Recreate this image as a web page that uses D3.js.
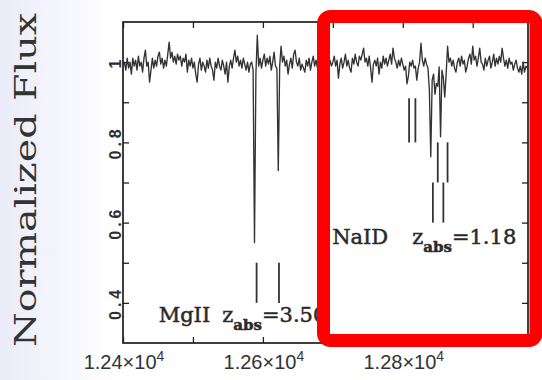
<!DOCTYPE html>
<html>
<head>
<meta charset="utf-8">
<script src="https://cdn.jsdelivr.net/npm/d3@7"></script>
<style>
  html, body { margin: 0; padding: 0; background: #fff; }
  svg { display: block; }
</style>
</head>
<body>
<svg id="chart" width="542" height="380"></svg>
<script>
// spectrum: first wavelength and sampling step (Angstrom), then normalized flux
const waveStart = 12400;
const waveStep = 2;
const flux = [
  0.99, 1.00, 0.98, 1.01, 0.985, 1.00, 0.97, 1.01, 0.99, 1.005,
  0.98, 1.015, 0.99, 1.00, 0.975, 1.01, 1.03, 0.99, 1.00, 0.95,
  0.98, 1.01, 0.985, 1.005, 0.99, 1.015, 1.025, 0.995, 1.01, 0.985,
  1.005, 0.99, 1.02, 1.05, 1.01, 1.025, 1.00, 1.015, 0.995, 1.02,
  1.005, 1.015, 0.99, 1.01, 1.00, 1.02, 0.975, 1.005, 0.99, 1.01,
  0.985, 1.00, 0.97, 0.95, 0.995, 1.01, 0.98, 1.00, 0.99, 0.975,
  1.005, 0.985, 1.01, 0.99, 0.98, 0.955, 1.00, 0.985, 1.01, 0.99,
  0.98, 1.005, 0.99, 0.97, 1.00, 0.95, 0.99, 1.005, 0.985, 1.01,
  1.03, 1.00, 1.015, 0.99, 1.005, 0.985, 1.01, 0.995, 0.98, 1.00,
  0.975, 0.995, 1.00, 0.98, 0.55, 0.97, 1.067, 0.99, 1.01, 0.985,
  1.005, 1.02, 0.99, 1.01, 0.995, 1.015, 0.98, 1.00, 1.025, 0.99,
  0.985, 0.73, 0.99, 1.04, 1.00, 1.015, 0.99, 1.005, 0.97, 0.995,
  1.01, 0.985, 1.02, 1.03, 1.00, 0.99, 1.01, 0.98, 0.995, 0.985,
  0.975, 1.005, 0.99, 1.01, 0.98, 1.00, 1.015, 0.99, 1.005, 0.985,
  1.01, 0.99, 1.02, 0.995, 1.00, 0.985, 1.01, 0.98, 1.005, 0.99,
  1.00, 1.015, 0.99, 1.005, 0.96, 0.995, 1.01, 0.985, 1.00, 1.02,
  0.99, 1.005, 0.985, 0.975, 1.01, 0.995, 1.02, 1.00, 0.99, 1.015,
  1.005, 1.02, 1.035, 1.00, 1.01, 0.99, 1.015, 0.985, 0.95, 0.995,
  1.005, 0.99, 1.01, 0.97, 1.00, 0.985, 1.015, 0.995, 1.01, 0.99,
  1.005, 1.02, 0.995, 1.035, 1.01, 1.00, 0.985, 1.005, 0.99, 1.01,
  0.995, 0.98, 0.99, 0.946, 0.965, 1.00, 0.99, 1.005, 0.985, 0.99,
  0.955, 0.985, 1.00, 1.047, 1.005, 0.99, 1.01, 0.995, 0.985, 0.93,
  0.764, 0.955, 0.97, 0.92, 0.947, 0.94, 0.988, 0.814, 0.98, 0.96,
  0.913, 0.97, 1.04, 1.00, 1.01, 0.99, 1.005, 0.985, 0.975, 1.00,
  1.01, 0.99, 1.015, 0.995, 1.005, 0.975, 0.99, 1.01, 1.02, 0.995,
  1.04, 1.005, 1.015, 0.99, 1.01, 1.035, 1.00, 0.995, 0.98, 1.01,
  0.99, 1.005, 1.015, 0.985, 1.00, 1.02, 0.99, 1.01, 0.995, 1.015,
  1.00, 1.035, 1.01, 0.99, 1.005, 0.985, 1.01, 0.995, 1.00, 0.98,
  0.995, 1.005, 0.985, 0.975, 0.99, 0.97, 1.00, 0.975, 0.99, 0.985,
  1.00
];

// axis ticks and labels
const xTicks = [12400, 12500, 12600, 12700, 12800, 12900];
const xLabelTicks = [12400, 12600, 12800];
const xLabelText = ["1.24", "1.26", "1.28"];
const yTicks = [0.4, 0.5, 0.6, 0.7, 0.8, 0.9, 1.0];
const yLabelTicks = [0.4, 0.6, 0.8, 1.0];
const yLabelText = ["0.4", "0.6", "0.8", "1"];

// absorption line markers (wavelength, flux top, flux bottom)
const markerWave = [12591, 12623, 12809, 12818, 12850, 12864, 12843, 12858];
const markerTop = [0.50, 0.50, 0.91, 0.91, 0.80, 0.80, 0.70, 0.70];
const markerBottom = [0.40, 0.40, 0.80, 0.80, 0.70, 0.70, 0.60, 0.60];

// absorber systems
const systemIon = ["MgII", "NaID"];
const systemZ = ["3.50", "1.18"];
const systemWave = [12451, 12699];
const systemFlux = [0.353, 0.546];

const svg = d3.select("#chart");
const width = 542, height = 380;

const x = d3.scaleLinear().domain([12400, 12979]).range([123, 528]);
const y = d3.scaleLinear().domain([0.3, 1.1]).range([343, 22]);

// slide background on the left
const defs = svg.append("defs");
const grad = defs.append("linearGradient").attr("id", "bg").attr("x1", 0).attr("x2", 1);
grad.append("stop").attr("offset", 0).attr("stop-color", "#e9ebf8");
grad.append("stop").attr("offset", 0.35).attr("stop-color", "#f1f2fb");
grad.append("stop").attr("offset", 1).attr("stop-color", "#ffffff");
svg.append("rect").attr("x", 0).attr("y", 0).attr("width", 110).attr("height", height)
  .attr("fill", "url(#bg)");

defs.append("clipPath").attr("id", "plot")
  .append("rect")
  .attr("x", x.range()[0]).attr("y", y.range()[1])
  .attr("width", x.range()[1] - x.range()[0])
  .attr("height", y.range()[0] - y.range()[1]);

// ticks on all four sides, pointing inward
const g = svg.append("g").attr("class", "axes");
g.append("g").attr("transform", `translate(0,${y.range()[0]})`)
  .call(d3.axisBottom(x).tickValues(xTicks).tickSize(-6).tickSizeOuter(0).tickFormat(""));
g.append("g").attr("transform", `translate(0,${y.range()[1]})`)
  .call(d3.axisTop(x).tickValues(xTicks).tickSize(-6).tickSizeOuter(0).tickFormat(""));
g.append("g").attr("transform", `translate(${x.range()[0]},0)`)
  .call(d3.axisLeft(y).tickValues(yTicks).tickSize(-6).tickSizeOuter(0).tickFormat(""));
g.append("g").attr("transform", `translate(${x.range()[1]},0)`)
  .call(d3.axisRight(y).tickValues(yTicks).tickSize(-6).tickSizeOuter(0).tickFormat(""));
g.selectAll(".domain").remove();
g.selectAll(".tick line").attr("stroke", "#222").attr("stroke-width", 1.3);

svg.append("rect")
  .attr("x", x.range()[0]).attr("y", y.range()[1])
  .attr("width", x.range()[1] - x.range()[0])
  .attr("height", y.range()[0] - y.range()[1])
  .attr("fill", "none").attr("stroke", "#1e1e1e").attr("stroke-width", 1.7);

// x tick labels with 10^4
const xl = svg.append("g").selectAll("text").data(xLabelTicks).join("text")
  .attr("x", d => x(d) + 1)
  .attr("y", y.range()[0] + 26)
  .attr("text-anchor", "middle")
  .attr("font-family", "'Liberation Sans', Arial, sans-serif")
  .attr("font-size", 20)
  .attr("fill", "#333");
xl.append("tspan").text((d, i) => xLabelText[i] + "\u00d710");
xl.append("tspan").attr("dy", -8).attr("font-size", 14).text("4");

// y tick labels, rotated
svg.append("g").selectAll("text").data(yLabelTicks).join("text")
  .attr("transform", d => `translate(121,${y(d)}) rotate(-90)`)
  .attr("text-anchor", "middle")
  .attr("font-family", "'Liberation Sans', Arial, sans-serif")
  .attr("font-weight", "bold")
  .attr("font-size", 16)
  .attr("letter-spacing", 4)
  .attr("fill", "#2e2e2e")
  .text((d, i) => yLabelText[i]);

// y axis title
svg.append("text")
  .attr("transform", "translate(36,180) rotate(-90)")
  .attr("text-anchor", "middle")
  .attr("font-family", "'DejaVu Serif', serif")
  .attr("font-size", 29)
  .attr("textLength", 334)
  .attr("lengthAdjust", "spacingAndGlyphs")
  .attr("fill", "#333")
  .text("Normalized Flux");

// spectrum
const spec = flux.map((f, i) => ({ wave: waveStart + i * waveStep, flux: f }));
const line = d3.line().x(d => x(d.wave)).y(d => y(d.flux));
svg.append("path")
  .datum(spec)
  .attr("clip-path", "url(#plot)")
  .attr("d", line)
  .attr("fill", "none")
  .attr("stroke", "#333")
  .attr("stroke-width", 1.35)
  .attr("stroke-linejoin", "round");

// line markers
svg.append("g").selectAll("line").data(markerWave).join("line")
  .attr("x1", d => x(d)).attr("x2", d => x(d))
  .attr("y1", (d, i) => y(markerTop[i]))
  .attr("y2", (d, i) => y(markerBottom[i]))
  .attr("stroke", "#333")
  .attr("stroke-width", 1.8);

// system labels
const gaps = [12, 24];
const lab = svg.append("g").selectAll("text").data(systemIon).join("text")
  .attr("x", (d, i) => x(systemWave[i]))
  .attr("y", (d, i) => y(systemFlux[i]))
  .attr("font-family", "'DejaVu Serif', serif")
  .attr("font-size", 21)
  .attr("fill", "#2a2a2a")
  .attr("stroke", "#2a2a2a")
  .attr("stroke-width", 0.5);
lab.append("tspan").text(d => d);
lab.append("tspan").attr("dx", (d, i) => gaps[i]).text("z");
lab.append("tspan").attr("dy", 8).attr("font-size", 15).attr("font-weight", "bold").text("abs");
lab.append("tspan").attr("dy", -8).text((d, i) => "=" + systemZ[i]);

// red highlight box
svg.append("rect")
  .attr("x", 323.5).attr("y", 16.5)
  .attr("width", 212.5).attr("height", 324)
  .attr("rx", 7)
  .attr("fill", "none")
  .attr("stroke", "#ff0000")
  .attr("stroke-width", 13);
</script>
</body>
</html>
